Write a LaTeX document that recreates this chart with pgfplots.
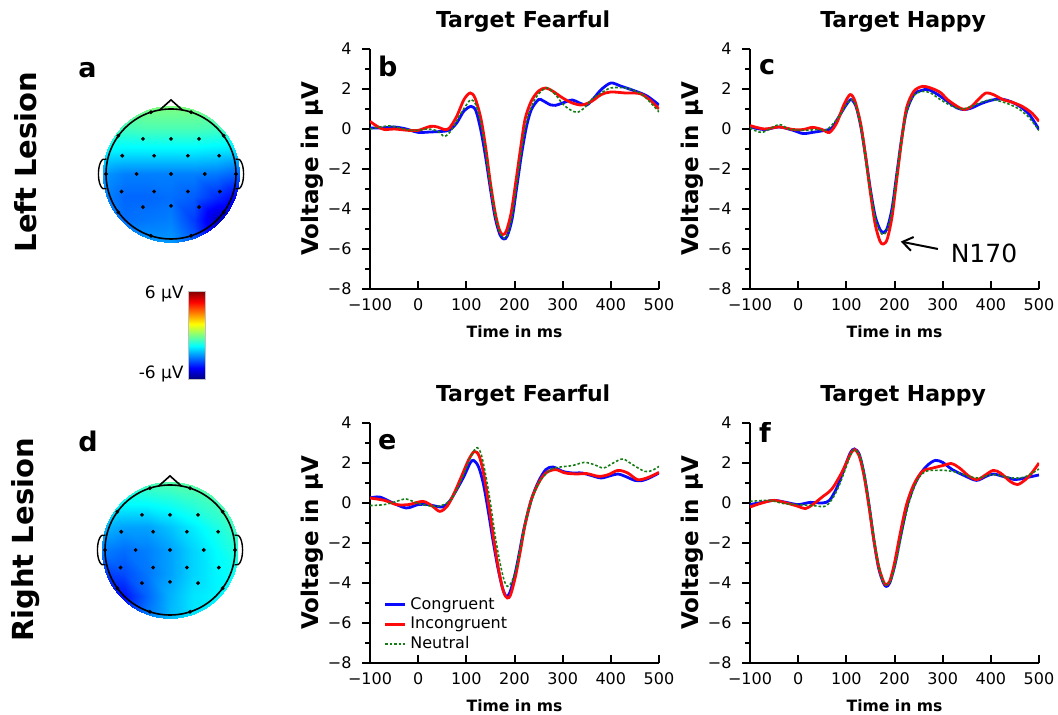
\documentclass[border=0pt]{standalone}
\usepackage{fontspec}
\setmainfont{DejaVu Sans}
\usepackage{pgfplots}
\pgfplotsset{compat=1.18}
\usetikzlibrary{arrows.meta}

\definecolor{cblue}{RGB}{10,10,255}
\definecolor{cred}{RGB}{255,10,10}
\definecolor{cgreen}{RGB}{20,125,20}

\pgfplotsset{
  erp/.style={
    scale only axis, width=144.5pt, height=120pt,
    xmin=-100, xmax=500, ymin=-8, ymax=4,
    axis lines*=left, axis line style={line width=1pt, black},
    xtick={-100,0,100,200,300,400,500},
    xticklabels={−100,0,100,200,300,400,500},
    ytick={-8,-6,-4,-2,0,2,4},
    yticklabels={−8,−6,−4,−2,0,2,4},
    minor ytick={-7,-5,-3,-1,1,3},
    tick align=outside, major tick length=4pt, minor tick length=2.5pt,
    tick style={line width=1pt, black},
    x tick style={yshift=4pt},
    tick label style={font=\fontsize{8}{9}\selectfont},
    xticklabel style={yshift=2.7pt},
    yticklabel style={xshift=-1.7pt},
    xlabel={Time in ms}, ylabel={Voltage in µV},
    xlabel style={font=\bfseries\fontsize{7.8}{9}\selectfont, at={(axis description cs:0.5,-0.179)}, anchor=center},
    ylabel style={font=\bfseries\fontsize{11.5}{13}\selectfont, at={(axis description cs:-0.2007,0.5)}, anchor=center},
    every axis title shift=0pt,
    title style={font=\bfseries\fontsize{11}{13}\selectfont, at={(axis description cs:0.53,1.0875)}, anchor=base},
    legend image code/.code={\draw[#1] (0pt,0pt) -- (10pt,0pt);},
  },
  cb/.style={cblue, line width=1.4pt, smooth},
  cr/.style={cred, line width=1.4pt, smooth},
  cg/.style={cgreen, line width=0.8pt, dash pattern=on 1.3pt off 1pt, smooth},
  head/.style={scale only axis, width=68.4pt, height=68.4pt, anchor=center,
    xmin=-3, xmax=3, ymin=-3, ymax=3, hide axis},
}
\tikzset{letter/.style={font=\bfseries\fontsize{13.5}{15}\selectfont, anchor=base west, inner sep=0pt}}

\begin{document}
\begin{tikzpicture}
\useasboundingbox (0,0) rectangle (529pt,357.5pt);

% ---------- Row labels ----------
\node[rotate=90, font=\bfseries\fontsize{14.5}{16}\selectfont] at (13pt,276.5pt) {Left Lesion};
\node[rotate=90, font=\bfseries\fontsize{14.5}{16}\selectfont] at (13pt,87.5pt) {Right Lesion};
\node[letter] at (39pt,318.5pt) {a};
\node[letter] at (39pt,131.5pt) {d};

% ---------- Head a ----------
\begin{scope}
\clip (85.5pt,270.5pt) circle (34.2pt);
\begin{axis}[head, at={(85.5pt,270.5pt)}, view={0}{90}, colormap/jet, point meta min=-6, point meta max=6]
\addplot3[surf, shader=interp, mesh/rows=7, mesh/cols=7] table {
x y z
-3 3 -0.1
-2 3 -0.1
-1 3 0.0
0 3 0.0
1 3 0.0
2 3 -0.1
3 3 -0.2

-3 2 -0.7
-2 2 -0.7
-1 2 -0.6
0 2 -0.6
1 2 -0.6
2 2 -0.7
3 2 -0.8

-3 1 -1.6
-2 1 -1.7
-1 1 -1.7
0 1 -1.7
1 1 -1.7
2 1 -1.8
3 1 -1.9

-3 0 -2.7
-2 0 -3.0
-1 0 -3.0
0 0 -3.0
1 0 -3.0
2 0 -3.1
3 0 -3.4

-3 -1 -2.9
-2 -1 -3.3
-1 -1 -3.3
0 -1 -3.2
1 -1 -3.4
2 -1 -4.0
3 -1 -4.6

-3 -2 -2.8
-2 -2 -3.2
-1 -2 -3.1
0 -2 -3.0
1 -2 -3.8
2 -2 -5.2
3 -2 -5.4

-3 -3 -2.3
-2 -3 -2.6
-1 -3 -2.7
0 -3 -2.7
1 -3 -3.4
2 -3 -4.8
3 -3 -5.0
};
\end{axis}
\end{scope}
\begin{axis}[head, at={(85.5pt,270.5pt)}, clip=false]
\draw[line width=0.8pt] (axis cs:0,0) circle[radius=32.5pt];
\draw[line width=0.8pt] (axis cs:-0.5,2.8) -- (axis cs:0,3.25) -- (axis cs:0.5,2.8);
\draw[line width=0.7pt] (axis cs:-2.83,0.65) .. controls (axis cs:-3.3,0.85) and (axis cs:-3.3,-0.85) .. (axis cs:-2.83,-0.65);
\draw[line width=0.7pt] (axis cs:2.83,0.65) .. controls (axis cs:3.3,0.85) and (axis cs:3.3,-0.85) .. (axis cs:2.83,-0.65);
\addplot[only marks, mark=*, mark size=0.75pt, black] coordinates {
(-1.23,1.54)(0,1.54)(1.23,1.54)
(-2.14,0.8)(-0.74,0.8)(0.74,0.8)(2.11,0.8)
(-1.51,0)(0,0)(1.48,0)
(-2.17,-0.77)(-0.74,-0.77)(0.74,-0.77)(2.14,-0.77)
(-1.23,-1.45)(0,-1.4)(1.23,-1.45)
(2.85,0)(2.31,1.68)(0.88,2.71)(-0.88,2.71)(-2.31,1.68)
(-2.85,0)(-2.31,-1.68)(-0.88,-2.71)(0.88,-2.71)(2.31,-1.68)};
\end{axis}

% ---------- Colour bar ----------
\begin{axis}[at={(85.5pt,168pt)}, anchor=south west, hide axis, scale only axis,
  width=1pt, height=1pt, colormap/jet, point meta min=-6, point meta max=6,
  colorbar, colorbar style={at={(parent axis.south west)}, anchor=south west,
    xshift=0pt, yshift=0pt, width=8.5pt, height=44pt, ytick=\empty,
    axis line style={gray!50, line width=0.4pt}}]
\addplot[draw=none] coordinates {(0,0)};
\end{axis}
\node[anchor=east, inner sep=0pt, font=\fontsize{8.5}{10}\selectfont] at (92pt,210.5pt) {6 µV};
\node[anchor=east, inner sep=0pt, font=\fontsize{8.5}{10}\selectfont] at (92pt,170.5pt) {-6 µV};

% ---------- Head d ----------
\begin{scope}
\clip (85pt,82.5pt) circle (34.2pt);
\begin{axis}[head, at={(85pt,82.5pt)}, view={0}{90}, colormap/jet, point meta min=-6, point meta max=6]
\addplot3[surf, shader=interp, mesh/rows=7, mesh/cols=7] table {
x y z
-3 3 -0.8
-2 3 -0.7
-1 3 -0.6
0 3 -0.5
1 3 -0.4
2 3 -0.3
3 3 -0.2

-3 2 -1.4
-2 2 -1.5
-1 2 -1.5
0 2 -1.3
1 2 -1.0
2 2 -0.7
3 2 -0.4

-3 1 -2.3
-2 1 -2.6
-1 1 -2.6
0 1 -2.2
1 1 -1.7
2 1 -1.2
3 1 -0.7

-3 0 -3.0
-2 0 -3.2
-1 0 -3.0
0 0 -2.6
1 0 -2.0
2 0 -1.5
3 0 -1.0

-3 -1 -3.8
-2 -1 -3.6
-1 -1 -3.1
0 -1 -2.6
1 -1 -2.0
2 -1 -1.6
3 -1 -1.3

-3 -2 -4.8
-2 -2 -4.3
-1 -2 -3.3
0 -2 -2.4
1 -2 -1.8
2 -2 -1.6
3 -2 -1.5

-3 -3 -5.0
-2 -3 -4.5
-1 -3 -3.0
0 -3 -2.3
1 -3 -1.8
2 -3 -1.7
3 -3 -1.6
};
\end{axis}
\end{scope}
\begin{axis}[head, at={(85pt,82.5pt)}, clip=false]
\draw[line width=0.8pt] (axis cs:0,0) circle[radius=32.5pt];
\draw[line width=0.8pt] (axis cs:-0.5,2.8) -- (axis cs:0,3.25) -- (axis cs:0.5,2.8);
\draw[line width=0.7pt] (axis cs:-2.83,0.65) .. controls (axis cs:-3.3,0.85) and (axis cs:-3.3,-0.85) .. (axis cs:-2.83,-0.65);
\draw[line width=0.7pt] (axis cs:2.83,0.65) .. controls (axis cs:3.3,0.85) and (axis cs:3.3,-0.85) .. (axis cs:2.83,-0.65);
\addplot[only marks, mark=*, mark size=0.75pt, black] coordinates {
(-1.23,1.54)(0,1.54)(1.23,1.54)
(-2.14,0.8)(-0.74,0.8)(0.74,0.8)(2.11,0.8)
(-1.51,0)(0,0)(1.48,0)
(-2.17,-0.77)(-0.74,-0.77)(0.74,-0.77)(2.14,-0.77)
(-1.23,-1.45)(0,-1.4)(1.23,-1.45)
(2.85,0)(2.31,1.68)(0.88,2.71)(-0.88,2.71)(-2.31,1.68)
(-2.85,0)(-2.31,-1.68)(-0.88,-2.71)(0.88,-2.71)(2.31,-1.68)};
\end{axis}

% ---------- Panel b ----------
\begin{axis}[erp, at={(185pt,213pt)}, anchor=south west, title={Target Fearful}]
\addplot[cb] coordinates {(-100,0.05)(-75,0.05)(-50,0.1)(-25,0.0)(0,-0.17)(25,-0.15)(50,-0.12)(65,-0.05)(80,0.3)(95,0.9)(110,1.13)(120,0.9)(130,-0.05)(140,-1.4)(150,-3.0)(160,-4.45)(170,-5.3)(178,-5.5)(185,-5.35)(195,-4.5)(205,-2.85)(215,-1.2)(225,0.13)(235,0.97)(250,1.47)(260,1.4)(275,1.2)(285,1.18)(300,1.3)(320,1.45)(335,1.3)(350,1.2)(365,1.55)(380,1.97)(400,2.3)(420,2.15)(450,1.9)(475,1.65)(500,1.2)};
\addplot[cr] coordinates {(-100,0.38)(-85,0.13)(-70,-0.03)(-50,0)(-20,-0.07)(0,-0.07)(25,0.13)(40,0.1)(55,-0.03)(65,0.05)(80,0.63)(95,1.47)(108,1.8)(118,1.55)(130,0.55)(140,-0.9)(150,-2.7)(160,-4.2)(168,-5.0)(175,-5.28)(183,-5.1)(193,-4.2)(203,-2.6)(213,-0.9)(222,0.5)(235,1.4)(250,1.9)(265,2.05)(280,1.88)(300,1.55)(320,1.3)(340,1.2)(360,1.38)(380,1.72)(400,1.85)(430,1.8)(460,1.77)(480,1.47)(500,1.0)};
\addplot[cg] coordinates {(-100,0)(-60,0.15)(-20,-0.05)(0,-0.07)(20,0)(40,-0.1)(55,-0.37)(70,-0.03)(85,0.63)(100,1.2)(110,1.47)(120,1.2)(130,0.3)(140,-1.1)(150,-2.8)(160,-4.3)(170,-5.2)(178,-5.45)(185,-5.3)(195,-4.35)(205,-2.7)(215,-1.0)(225,0.38)(240,1.38)(255,1.88)(268,2.05)(285,1.72)(300,1.25)(315,0.97)(330,0.83)(345,1.05)(360,1.47)(380,1.8)(400,2.05)(430,2.05)(460,1.8)(480,1.38)(500,0.85)};
\node[letter] at (axis cs:-84,2.64) {b};
\end{axis}

% ---------- Panel c ----------
\begin{axis}[erp, at={(375pt,213pt)}, anchor=south west, title={Target Happy}]
\addplot[cb] coordinates {(-100,0.1)(-70,-0.03)(-40,0.1)(-10,-0.07)(10,-0.23)(30,-0.17)(55,-0.07)(70,0.05)(85,0.63)(100,1.22)(110,1.47)(120,1.13)(130,0.13)(140,-1.38)(150,-3.03)(160,-4.37)(170,-5.03)(177,-5.17)(185,-4.95)(195,-3.95)(205,-2.2)(215,-0.45)(225,0.88)(240,1.72)(255,1.92)(270,1.97)(290,1.72)(310,1.38)(330,1.05)(345,0.97)(360,1.05)(380,1.27)(400,1.43)(420,1.5)(440,1.38)(460,1.13)(480,0.72)(500,-0.03)};
\addplot[cr] coordinates {(-100,0.17)(-70,0)(-40,0.1)(-10,-0.03)(10,-0.03)(30,0.08)(50,-0.03)(65,-0.17)(80,0.3)(95,1.22)(108,1.72)(118,1.38)(130,0.22)(140,-1.38)(150,-3.2)(160,-4.78)(170,-5.62)(177,-5.75)(185,-5.5)(195,-4.37)(205,-2.45)(215,-0.53)(225,1.05)(240,1.88)(258,2.13)(275,2.05)(295,1.83)(310,1.47)(330,1.13)(345,0.97)(360,1.13)(375,1.5)(390,1.8)(405,1.72)(425,1.47)(445,1.33)(465,1.13)(485,0.8)(500,0.38)};
\addplot[cg] coordinates {(-100,0.05)(-75,-0.17)(-40,0.22)(-20,0)(10,-0.07)(40,-0.03)(60,-0.03)(85,0.63)(100,1.22)(110,1.47)(120,1.13)(130,0.1)(140,-1.45)(150,-3.12)(160,-4.45)(170,-5.12)(177,-5.28)(185,-5.03)(195,-4.03)(205,-2.28)(215,-0.5)(225,0.88)(240,1.67)(258,1.88)(275,1.8)(295,1.47)(320,1.13)(340,1.0)(360,1.13)(380,1.33)(400,1.47)(420,1.38)(440,1.22)(460,0.97)(480,0.55)(500,-0.07)};
\node[letter] at (axis cs:-82,2.7) {c};
\draw[-{Straight Barb[length=5pt, width=7pt]}, line width=1pt] (axis cs:290,-6.0) -- (axis cs:213,-5.63);
\node[anchor=west, inner sep=0pt, font=\fontsize{12.5}{14}\selectfont] at (axis cs:316,-6.2) {N170};
\end{axis}

% ---------- Panel e ----------
\begin{axis}[erp, at={(185pt,26pt)}, anchor=south west, title={Target Fearful},
  legend style={draw=none, fill=none, at={(axis description cs:0.025,0.012)}, anchor=south west,
    font=\fontsize{8}{9}\selectfont, row sep=-1.6pt}, legend cell align=left]
\addplot[cb] coordinates {(-100,0.25)(-80,0.3)(-55,0.03)(-25,-0.25)(0,-0.08)(20,-0.08)(50,-0.2)(65,0.08)(80,0.67)(95,1.33)(108,2.0)(115,2.13)(125,1.83)(135,1.0)(145,-0.33)(155,-1.83)(165,-3.17)(175,-4.25)(183,-4.67)(190,-4.5)(200,-3.67)(210,-2.5)(220,-1.25)(235,0.17)(250,1.08)(265,1.67)(280,1.8)(300,1.58)(320,1.5)(340,1.5)(360,1.37)(380,1.25)(400,1.37)(415,1.45)(430,1.33)(450,1.13)(465,1.12)(480,1.25)(500,1.5)};
\addplot[cr] coordinates {(-100,0.25)(-70,0.13)(-45,-0.08)(-20,-0.08)(10,0.08)(30,-0.17)(45,-0.42)(60,-0.17)(75,0.5)(90,1.33)(105,2.17)(117,2.58)(127,2.33)(137,1.33)(147,-0.17)(157,-1.83)(167,-3.33)(177,-4.42)(185,-4.75)(192,-4.58)(202,-3.67)(212,-2.42)(222,-1.08)(235,0.17)(250,1.0)(265,1.5)(285,1.67)(305,1.5)(330,1.45)(350,1.47)(375,1.33)(395,1.42)(415,1.63)(435,1.5)(455,1.17)(475,1.25)(500,1.53)};
\addplot[cg] coordinates {(-100,-0.13)(-70,-0.08)(-45,0.08)(-25,0.2)(0,-0.03)(20,-0.13)(40,-0.17)(60,0)(75,0.42)(90,1.17)(105,2.08)(120,2.75)(130,2.5)(140,1.42)(150,0)(160,-1.67)(170,-3.0)(178,-3.83)(185,-4.17)(193,-4.0)(203,-3.33)(213,-2.17)(223,-0.92)(238,0.33)(255,1.17)(275,1.67)(295,1.8)(320,1.87)(345,2.03)(365,1.92)(385,1.75)(405,2.0)(425,2.2)(445,1.92)(470,1.58)(485,1.62)(500,1.83)};
\legend{Congruent,Incongruent,Neutral}
\node[letter] at (axis cs:-84,2.65) {e};
\end{axis}

% ---------- Panel f ----------
\begin{axis}[erp, at={(375pt,26pt)}, anchor=south west, title={Target Happy}]
\addplot[cb] coordinates {(-100,-0.08)(-75,0.03)(-50,0.13)(-25,0.03)(0,-0.08)(25,0.03)(50,0)(65,0.13)(80,0.75)(95,1.67)(108,2.5)(117,2.7)(127,2.42)(137,1.42)(147,-0.08)(157,-1.83)(167,-3.25)(177,-4.0)(183,-4.17)(190,-4.0)(200,-3.17)(212,-1.75)(225,-0.25)(240,0.83)(255,1.5)(270,1.92)(285,2.13)(300,2.03)(320,1.67)(345,1.37)(370,1.13)(390,1.33)(405,1.45)(425,1.33)(450,1.17)(470,1.25)(500,1.4)};
\addplot[cr] coordinates {(-100,-0.2)(-75,0)(-50,0.13)(-20,-0.03)(0,-0.17)(15,-0.28)(30,-0.08)(50,0.3)(70,0.7)(90,1.5)(108,2.42)(117,2.67)(127,2.33)(137,1.33)(147,-0.17)(157,-1.83)(167,-3.17)(177,-3.92)(182,-4.08)(190,-3.92)(200,-3.0)(212,-1.5)(225,-0.08)(240,0.92)(258,1.58)(280,1.75)(300,1.87)(318,1.97)(335,1.75)(355,1.33)(372,1.17)(390,1.42)(405,1.63)(420,1.5)(440,1.08)(455,0.92)(470,1.13)(485,1.5)(500,2.0)};
\addplot[cg] coordinates {(-100,0.08)(-60,0.13)(-30,-0.03)(0,-0.08)(30,-0.13)(55,-0.17)(70,0.17)(85,0.87)(100,1.83)(112,2.58)(120,2.63)(130,2.25)(140,1.08)(150,-0.5)(160,-2.17)(170,-3.42)(178,-4.0)(185,-4.08)(193,-3.83)(205,-2.75)(218,-1.17)(232,0.17)(248,1.17)(265,1.58)(285,1.63)(305,1.63)(330,1.53)(355,1.33)(375,1.25)(400,1.42)(420,1.37)(445,1.25)(470,1.3)(500,1.7)};
\node[letter] at (axis cs:-82,3.0) {f};
\end{axis}
\end{tikzpicture}
\end{document}
